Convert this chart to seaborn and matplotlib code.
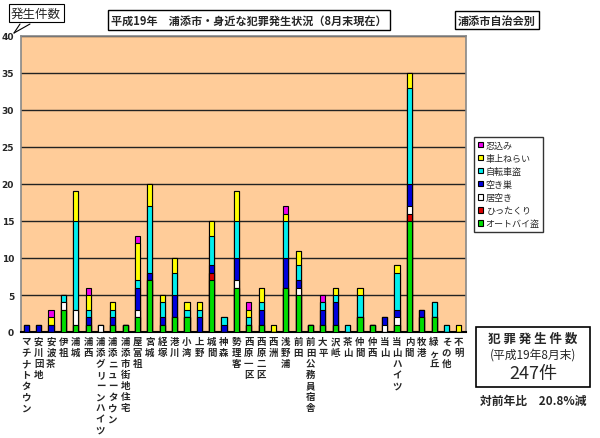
import numpy as np
import pandas as pd
import matplotlib
matplotlib.use('Agg')
import matplotlib.pyplot as plt
import seaborn as sns
from matplotlib.patches import Patch, Rectangle
from matplotlib.lines import Line2D

sns.set_style('white')
plt.rcParams['font.family'] = ['Noto Sans CJK JP', 'DejaVu Sans']

# 地区名
areas = ['マチナトタウン', '安川団地', '安波茶', '伊祖', '浦城', '浦西',
         '浦添グリーンハイツ', '浦添ニュータウン', '浦添市街地住宅', '屋富祖', '宮城',
         '経塚', '港川', '小湾', '上野', '城間', '神森', '勢理客', '西原一区', '西原二区',
         '西洲', '浅野浦', '前田', '前田公務員宿舎', '大平', '沢岻', '茶山', '仲間',
         '仲西', '当山', '当山ハイツ', '内間', '牧港', '緑ヶ丘', 'その他', '不明']

# 罪種別件数 (下から積み上げ順)
autobai   = [0, 0, 0, 3, 1, 1, 0, 1, 1, 2, 7, 1, 2, 2, 0, 7, 0, 6, 1, 1, 0, 6, 5, 1, 1, 1, 0, 2, 1, 0, 1, 15, 2, 2, 0, 0]
hittakuri = [0, 0, 0, 0, 0, 0, 0, 0, 0, 0, 0, 0, 0, 0, 0, 1, 0, 0, 0, 0, 0, 0, 0, 0, 0, 0, 0, 0, 0, 0, 0, 1, 0, 0, 0, 0]
iaki      = [0, 0, 0, 1, 2, 0, 1, 0, 0, 1, 0, 0, 0, 0, 0, 0, 0, 1, 0, 0, 0, 0, 1, 0, 0, 0, 0, 0, 0, 1, 1, 1, 0, 0, 0, 0]
akisu     = [1, 1, 1, 0, 0, 1, 0, 1, 0, 3, 1, 1, 3, 0, 2, 1, 1, 3, 0, 2, 0, 4, 1, 0, 2, 3, 0, 0, 0, 1, 1, 3, 1, 0, 0, 0]
jitensha  = [0, 0, 0, 1, 12, 1, 0, 1, 0, 1, 9, 2, 3, 1, 1, 4, 1, 5, 1, 1, 0, 5, 2, 0, 1, 1, 1, 3, 0, 0, 5, 13, 0, 2, 1, 0]
shajou    = [0, 0, 1, 0, 4, 2, 0, 1, 0, 5, 3, 1, 2, 1, 1, 2, 0, 4, 1, 2, 1, 1, 2, 0, 0, 1, 0, 1, 0, 0, 1, 2, 0, 0, 0, 1]
shinobi   = [0, 0, 1, 0, 0, 1, 0, 0, 0, 1, 0, 0, 0, 0, 0, 0, 0, 0, 1, 0, 0, 1, 0, 0, 1, 0, 0, 0, 0, 0, 0, 0, 0, 0, 0, 0]

layers = ['オートバイ盗', 'ひったくり', '居空き', '空き巣', '自転車盗', '車上ねらい', '忍込み']
colors = ['#00dd00', '#dd0000', '#ffffff', '#0000dd', '#00eeee', '#ffff00', '#ee00ee']

df = pd.DataFrame({'地区': areas, 'オートバイ盗': autobai, 'ひったくり': hittakuri,
                   '居空き': iaki, '空き巣': akisu, '自転車盗': jitensha,
                   '車上ねらい': shajou, '忍込み': shinobi})
cum = df[layers].cumsum(axis=1)

fig = plt.figure(figsize=(6, 4.39), dpi=100)
ax = fig.add_axes([21 / 600, 1 - 333 / 439, 445 / 600, 296 / 439])
ax.set_facecolor('#ffcc99')

# 上の層から順に累積値を描いて重ねる
for name, col in reversed(list(zip(layers, colors))):
    sns.barplot(x=df['地区'], y=cum[name], color=col, saturation=1, width=0.42,
                edgecolor='black', linewidth=0.8, errorbar=None, ax=ax, zorder=3)

ax.set_ylim(0, 40)
ax.set_xlim(-0.43, 35.58)
ax.set_yticks(range(0, 41, 5))
ax.set_yticklabels([str(v) for v in range(0, 41, 5)], fontsize=6.5, fontweight='bold',
                   family='DejaVu Sans')
ax.yaxis.grid(True, color='#222222', linewidth=1)
ax.xaxis.grid(False)
ax.set_axisbelow(True)
ax.tick_params(axis='both', length=0, pad=5)
ax.set_xlabel('')
ax.set_ylabel('')
ax.set_xticks(range(len(areas)))
ax.set_xticklabels(['\n'.join(a) for a in areas], rotation=0, va='top',
                   fontsize=6.8, fontweight='bold', linespacing=1.13)
ax.tick_params(axis='x', pad=3)
for s in ['top', 'right', 'left']:
    ax.spines[s].set_color('#888888')
    ax.spines[s].set_linewidth(1.2)
ax.spines['bottom'].set_color('black')
ax.spines['bottom'].set_linewidth(1.5)

# タイトル類
fig.text(249 / 600, 1 - 21 / 439, '平成19年　浦添市・身近な犯罪発生状況（8月末現在）',
         ha='center', va='center', fontsize=8, fontweight='bold',
         bbox=dict(boxstyle='square,pad=0.3', fc='white', ec='black', lw=1))
fig.text(497 / 600, 1 - 21 / 439, '浦添市自治会別', ha='center', va='center',
         fontsize=8, fontweight='bold',
         bbox=dict(boxstyle='square,pad=0.25', fc='white', ec='black', lw=1))

# 発生件数 吹き出し
fig.text(36 / 600, 1 - 14 / 439, '発生件数', ha='center', va='center', fontsize=9,
         bbox=dict(boxstyle='square,pad=0.2', fc='white', ec='black', lw=0.8))
fig.add_artist(Line2D([20 / 600, 14 / 600], [1 - 25 / 439, 1 - 34 / 439], color='black', lw=0.8))
fig.add_artist(Line2D([14 / 600, 30 / 600], [1 - 34 / 439, 1 - 25 / 439], color='black', lw=0.8))

# 凡例
handles = [Patch(facecolor=c, edgecolor='black', linewidth=0.8, label=l)
           for l, c in zip(layers, colors)]
handles = handles[::-1]
leg = fig.legend(handles=handles, loc='upper left', bbox_to_anchor=(474 / 600, 1 - 138 / 439),
                 fontsize=6.5, frameon=True, fancybox=False, edgecolor='black',
                 handlelength=0.6, handleheight=0.6, handletextpad=0.3,
                 labelspacing=0.45, borderpad=0.4, borderaxespad=0)
leg.get_frame().set_linewidth(1)

# 合計ボックス
fig.add_artist(Rectangle((476 / 600, 1 - 388 / 439), 114 / 600, 60 / 439,
                         transform=fig.transFigure, fc='white', ec='black', lw=1.2))
fig.text(533 / 600, 1 - 339 / 439, '犯 罪 発 生 件 数', ha='center', va='center',
         fontsize=9, fontweight='bold')
fig.text(533 / 600, 1 - 355 / 439, '(平成19年8月末)', ha='center', va='center', fontsize=8.5)
fig.text(533 / 600, 1 - 374 / 439, '247件', ha='center', va='center', fontsize=13)
fig.text(533 / 600, 1 - 401 / 439, '対前年比　20.8%減', ha='center', va='center',
         fontsize=8.5, fontweight='bold')

fig.savefig('out.png', dpi=100)
